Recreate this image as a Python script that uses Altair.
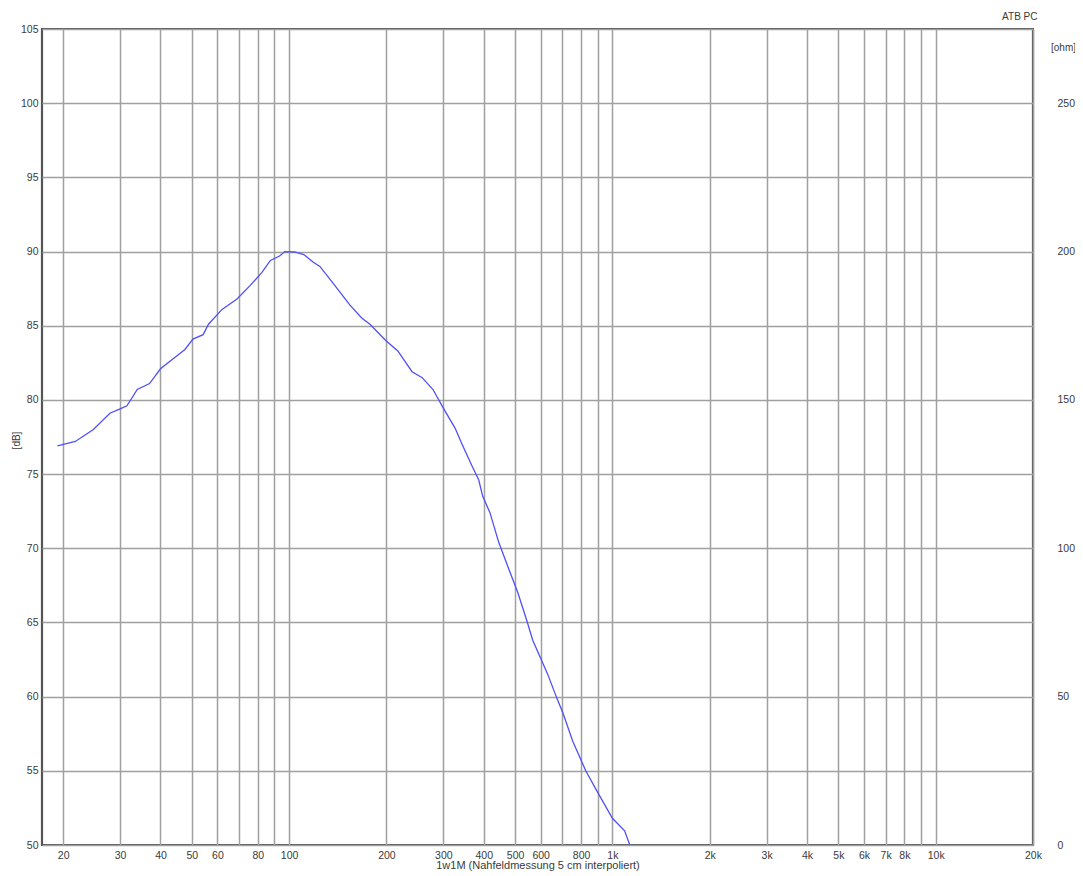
import altair as alt
import pandas as pd

freq = [19.2, 21.8, 24.8, 27.9, 30, 31.5, 33.9, 37.0, 40, 47.6, 50.4, 54.2, 56.3, 62.0, 69,
        75.7, 82.4, 87.5, 93.4, 97, 104, 111, 118.5, 124.5, 138.6, 154, 168, 177.8, 199,
        216.9, 240, 258, 278.6, 299, 326, 343, 367, 386, 397, 418, 445, 478, 510, 544, 567,
        631, 673, 703, 754, 827, 895, 1000, 1091, 1132]
db = [76.9, 77.2, 78.0, 79.1, 79.4, 79.6, 80.7, 81.1, 82.1, 83.4, 84.1, 84.4, 85.1, 86.1, 86.8,
      87.7, 88.6, 89.4, 89.7, 90.0, 89.97, 89.8, 89.3, 89.0, 87.7, 86.4, 85.5, 85.1, 84.0,
      83.3, 81.9, 81.5, 80.7, 79.5, 78.1, 77.0, 75.6, 74.6, 73.5, 72.4, 70.4, 68.6, 67.0, 65.1, 63.8,
      61.5, 59.9, 58.9, 57.0, 55.0, 53.65, 51.8, 50.96, 50.0]

x_grid = [20, 30, 40, 50, 60, 70, 80, 90, 100, 200, 300, 400, 500, 600, 700, 800, 900,
          1000, 2000, 3000, 4000, 5000, 6000, 7000, 8000, 9000, 10000, 20000]
x_unlabeled = [70, 90, 700, 900, 9000]
db_ticks = [50, 55, 60, 65, 70, 75, 80, 85, 90, 95, 100, 105]
ohm_ticks = [0, 50, 100, 150, 200, 250]

df = pd.DataFrame({"f": freq, "db": db})
df["ohm"] = (df["db"] - 50) * 5

FONT = "Liberation Sans"
LBL = "#3a3a3a"
GRID = "#a0a0a0"

xscale = alt.Scale(type="log", domain=[17.2, 20000], nice=False)

label_expr = ("indexof([" + ",".join(str(v) for v in x_unlabeled) + "], datum.value) >= 0 ? '' : "
              "(datum.value >= 1000 ? format(datum.value/1000, 'd') + 'k' : format(datum.value, 'd'))")

line = alt.Chart(df).mark_line(color="#5050f8", strokeWidth=1.3).encode(
    x=alt.X("f:Q", scale=xscale,
            axis=alt.Axis(values=x_grid, labelExpr=label_expr, grid=True, gridColor=GRID,
                          gridWidth=1.5, ticks=False, domain=False,
                          labelPadding=5, labelFontSize=10.5, labelColor=LBL, labelFont=FONT,
                          labelFlush=False, labelOverlap=False,
                          title="1w1M  (Nahfeldmessung 5 cm interpoliert)", titleFont=FONT,
                          titleFontSize=11, titleFontWeight="normal", titleColor=LBL, titlePadding=-1)),
    y=alt.Y("db:Q", scale=alt.Scale(domain=[50, 105], nice=False),
            axis=alt.Axis(values=db_ticks, grid=True, gridColor=GRID, gridWidth=1.5,
                          ticks=False, domain=False, labelPadding=4,
                          labelFontSize=10.5, labelColor=LBL, labelFont=FONT,
                          title="[dB]", titleFont=FONT, titleFontSize=10, titleFontWeight="normal",
                          titleColor=LBL, titleX=-26, titleY=411, titleBaseline="middle",
                          titleAlign="center")),
)

right = alt.Chart(df).mark_line(opacity=0).encode(
    x=alt.X("f:Q", scale=xscale),
    y=alt.Y("ohm:Q", scale=alt.Scale(domain=[0, 275], nice=False),
            axis=alt.Axis(orient="right", values=ohm_ticks, grid=False, ticks=False, domain=False,
                          labelPadding=24, labelFontSize=10.5, labelColor=LBL, labelFont=FONT,
                          labelAlign="left",
                          title="[ohm]", titleAngle=0, titleX=30, titleY=18, titleAlign="center",
                          titleBaseline="middle", titleFont=FONT, titleFontSize=10,
                          titleFontWeight="normal", titleColor=LBL)),
)

chart = alt.layer(line, right).resolve_scale(y="independent").properties(
    width=991, height=816,
    padding={"left": 34, "top": 21, "right": 42, "bottom": 30},
    autosize=alt.AutoSizeParams(type="none"),
    title=alt.TitleParams("ATB PC", anchor="end", fontSize=10, font=FONT, fontWeight="normal",
                          color=LBL, offset=2, dx=-38),
).configure_view(stroke="#555555", strokeWidth=2.2)

chart.save("out.html", embed_options={"renderer": "svg", "actions": False})
